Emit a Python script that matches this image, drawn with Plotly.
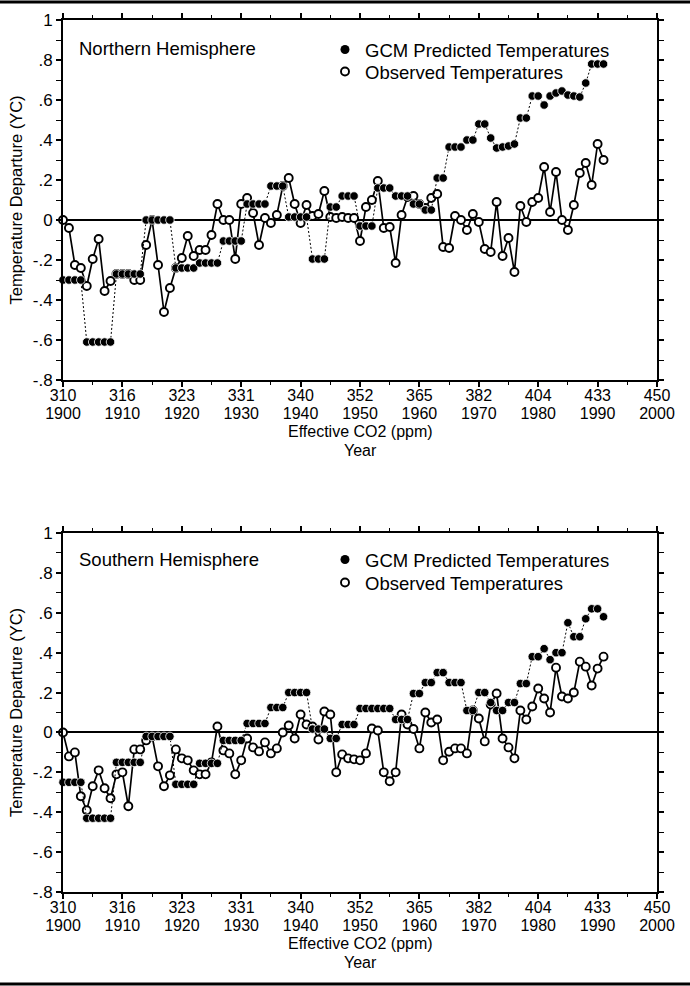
import plotly.graph_objects as go

years = list(range(1900, 1992))

nh_gcm = [-0.30]*4 + [-0.61]*5 + [-0.27]*5 + [0.0]*5 + [-0.24]*4 + [-0.215]*4 + [-0.105]*4 + \
         [0.08]*4 + [0.17]*3 + [0.015]*4 + [-0.195]*3 + [0.065]*2 + [0.12]*3 + [-0.03]*3 + \
         [0.16]*3 + [0.12]*3 + [0.08]*2 + [0.05]*2 + [0.21]*2 + [0.365]*3 + [0.40]*2 + [0.48]*2 + \
         [0.41] + [0.36, 0.365, 0.37, 0.38] + [0.51]*2 + [0.62]*2 + [0.575] + \
         [0.62, 0.635, 0.645, 0.625, 0.62, 0.615] + [0.685] + [0.78]*3

nh_obs = [0.0, -0.04, -0.225, -0.24, -0.33, -0.195, -0.095, -0.355, -0.305, -0.27,
          -0.27, -0.27, -0.30, -0.30, -0.125, 0.0, -0.225, -0.46, -0.34, -0.24,
          -0.19, -0.08, -0.18, -0.15, -0.15, -0.075, 0.08, 0.0, 0.0, -0.195,
          0.08, 0.11, 0.035, -0.125, 0.01, -0.015, 0.025, 0.17, 0.21, 0.08,
          -0.015, 0.075, 0.02, 0.03, 0.145, 0.015, 0.01, 0.015, 0.01, 0.01,
          -0.105, 0.065, 0.10, 0.195, -0.04, -0.035, -0.215, 0.025, 0.115, 0.12,
          0.08, 0.06, 0.11, 0.13, -0.135, -0.14, 0.02, 0.0, -0.05, 0.03,
          -0.01, -0.145, -0.16, 0.09, -0.18, -0.09, -0.26, 0.07, -0.01, 0.09,
          0.11, 0.265, 0.04, 0.24, 0.0, -0.05, 0.075, 0.235, 0.285, 0.175,
          0.38, 0.30]

sh_gcm = [-0.25]*4 + [-0.43]*5 + [-0.15]*5 + [-0.02]*5 + [-0.26]*4 + [-0.155]*4 + [-0.04]*4 + \
         [0.045]*4 + [0.125]*3 + [0.20]*4 + [0.017]*3 + [-0.03]*2 + [0.04]*3 + [0.12]*6 + \
         [0.065]*3 + [0.195]*2 + [0.25]*2 + [0.30]*2 + [0.25]*3 + [0.11]*2 + [0.20]*2 + [0.15] + \
         [0.11]*2 + [0.15]*2 + [0.245]*2 + [0.38]*2 + [0.42] + [0.365] + [0.40]*2 + [0.55] + \
         [0.48]*2 + [0.57] + [0.62]*2 + [0.58]

sh_obs = [0.0, -0.12, -0.10, -0.32, -0.39, -0.27, -0.19, -0.28, -0.33, -0.21,
          -0.20, -0.37, -0.085, -0.085, -0.04, -0.02, -0.17, -0.27, -0.215, -0.085,
          -0.13, -0.14, -0.19, -0.21, -0.21, -0.15, 0.03, -0.09, -0.105, -0.21,
          -0.14, -0.03, -0.075, -0.095, -0.05, -0.105, -0.08, 0.0, 0.035, -0.03,
          0.09, 0.04, 0.03, -0.035, 0.105, 0.09, -0.20, -0.11, -0.13, -0.135,
          -0.14, -0.105, 0.02, 0.01, -0.20, -0.245, -0.20, 0.09, 0.04, 0.017,
          -0.08, 0.10, 0.05, 0.065, -0.14, -0.097, -0.08, -0.08, -0.105, 0.11,
          0.07, -0.045, 0.14, 0.195, -0.03, -0.075, -0.13, 0.11, 0.065, 0.13,
          0.22, 0.17, 0.10, 0.325, 0.18, 0.17, 0.20, 0.355, 0.33, 0.235,
          0.32, 0.38]

tick_years = [1900, 1910, 1920, 1930, 1940, 1950, 1960, 1970, 1980, 1990, 2000]
co2_labels = ["310", "316", "323", "331", "340", "352", "365", "382", "404", "433", "450"]
y_tick_vals = [1, 0.8, 0.6, 0.4, 0.2, 0, -0.2, -0.4, -0.6, -0.8]
y_tick_text = ["1", ".8", ".6", ".4", ".2", "0", "-.2", "-.4", "-.6", "-.8"]

FONT = "Liberation Sans, Arial, Helvetica, sans-serif"
W, H = 690, 986
ML, MR, MT, MB = 63, 33, 20, 94


def pfy(py):
    return (H - MB - py) / (H - MT - MB)


def pfx(px):
    return (px - ML) / (W - ML - MR)


fig = go.Figure()

obs_style = dict(mode="lines+markers", cliponaxis=False, showlegend=False,
                 line=dict(color="black", width=1.7),
                 marker=dict(symbol="circle", size=8, color="white",
                             line=dict(color="black", width=1.9)))
gcm_style = dict(mode="lines+markers", cliponaxis=False, showlegend=False,
                 line=dict(color="black", width=1, dash="2px,2px"),
                 marker=dict(symbol="circle", size=8.5, color="black",
                             line=dict(color="white", width=0.8)))

panels = [("x", "y", ("x3", "x5"), nh_gcm, nh_obs, "legend", "legend2"),
          ("x2", "y2", ("x4", "x6"), sh_gcm, sh_obs, "legend3", "legend4")]
for xa, ya, label_axes, gcm, obs, lg1, lg2 in panels:
    fig.add_trace(go.Scatter(x=years, y=obs, xaxis=xa, yaxis=ya, **obs_style))
    fig.add_trace(go.Scatter(x=years, y=gcm, xaxis=xa, yaxis=ya, **gcm_style))
    # legend-only entries (markers only)
    fig.add_trace(go.Scatter(x=[None], y=[None], xaxis=xa, yaxis=ya, mode="markers",
                             name="GCM Predicted Temperatures", legend=lg1,
                             marker=dict(symbol="circle", size=9, color="black")))
    fig.add_trace(go.Scatter(x=[None], y=[None], xaxis=xa, yaxis=ya, mode="markers",
                             name="Observed Temperatures", legend=lg2,
                             marker=dict(symbol="circle", size=8, color="white",
                                         line=dict(color="black", width=1.9))))
    # empty traces so the overlay label axes (CO2 row, year row) are rendered
    for la in label_axes:
        fig.add_trace(go.Scatter(x=[None], y=[None], xaxis=la, yaxis=ya, mode="markers",
                                 showlegend=False, hoverinfo="skip"))

TICKFONT = dict(family=FONT, size=16, color="black")

xaxis_main = dict(range=[1900, 2000], tickvals=tick_years, showticklabels=False,
                  showline=True, linecolor="black", linewidth=2, mirror="allticks",
                  ticks="outside", ticklen=5, tickwidth=1.5, tickcolor="black",
                  minor=dict(dtick=5, ticks="outside", ticklen=3, tickcolor="black", tickwidth=1),
                  showgrid=False, zeroline=False)
xaxis_co2 = dict(range=[1900, 2000], tickvals=tick_years, ticktext=co2_labels,
                 showline=False, ticks="outside", ticklen=1, tickcolor="rgba(0,0,0,0)",
                 showgrid=False, zeroline=False, tickfont=TICKFONT)
xaxis_year = dict(range=[1900, 2000], tickvals=tick_years, ticktext=[str(y) for y in tick_years],
                  showline=False, ticks="outside", ticklen=19, tickcolor="rgba(0,0,0,0)",
                  showgrid=False, zeroline=False, tickfont=TICKFONT)
yaxis_common = dict(range=[-0.8, 1], tickvals=y_tick_vals, ticktext=y_tick_text,
                    showline=True, linecolor="black", linewidth=2, mirror="allticks",
                    ticks="outside", ticklen=5, tickwidth=1.5, tickcolor="black",
                    minor=dict(dtick=0.1, ticks="outside", ticklen=3, tickcolor="black", tickwidth=1),
                    showgrid=False, zeroline=True, zerolinecolor="black", zerolinewidth=1.5,
                    tickfont=dict(family=FONT, size=17, color="black"),
                    title=dict(text="Temperature Departure (YC)", standoff=6,
                               font=dict(family=FONT, size=16.5, color="black")))

legend_common = dict(bgcolor="rgba(0,0,0,0)", borderwidth=0, xanchor="left", yanchor="middle",
                     font=dict(family=FONT, size=18.5, color="black"), itemwidth=30)

LX = pfx(325)
label_font = dict(family=FONT, size=18.5, color="black")
title_font = dict(family=FONT, size=16, color="black")

annotations = [
    dict(text="Northern Hemisphere", x=pfx(77), y=pfy(48), xref="paper", yref="paper",
         xanchor="left", yanchor="middle", showarrow=False, font=label_font),
    dict(text="Southern Hemisphere", x=pfx(77), y=pfy(559), xref="paper", yref="paper",
         xanchor="left", yanchor="middle", showarrow=False, font=label_font),
]
for off in (0, 512):
    annotations.append(dict(text="Effective CO2 (ppm)", x=0.5, y=pfy(431 + off), xref="paper",
                            yref="paper", xanchor="center", yanchor="middle", showarrow=False,
                            font=title_font))
    annotations.append(dict(text="Year", x=0.5, y=pfy(450 + off), xref="paper",
                            yref="paper", xanchor="center", yanchor="middle", showarrow=False,
                            font=title_font))

fig.update_layout(
    width=W, height=H,
    margin=dict(l=ML, r=MR, t=MT, b=MB),
    paper_bgcolor="white", plot_bgcolor="white",
    font=dict(family=FONT, size=16, color="black"),
    xaxis=dict(domain=[0, 1], anchor="y", **xaxis_main),
    yaxis=dict(domain=[pfy(380), 1], anchor="x", **yaxis_common),
    xaxis2=dict(domain=[0, 1], anchor="y2", **xaxis_main),
    yaxis2=dict(domain=[0, pfy(533)], anchor="x2", **yaxis_common),
    xaxis3=dict(overlaying="x", anchor="y", side="bottom", **xaxis_co2),
    xaxis4=dict(overlaying="x2", anchor="y2", side="bottom", **xaxis_co2),
    xaxis5=dict(overlaying="x", anchor="y", side="bottom", **xaxis_year),
    xaxis6=dict(overlaying="x2", anchor="y2", side="bottom", **xaxis_year),
    legend=dict(x=LX, y=pfy(50), **legend_common),
    legend2=dict(x=LX, y=pfy(72), **legend_common),
    legend3=dict(x=LX, y=pfy(560), **legend_common),
    legend4=dict(x=LX, y=pfy(583), **legend_common),
    annotations=annotations,
    shapes=[
        dict(type="line", xref="paper", yref="paper", x0=pfx(0), x1=pfx(W), y0=pfy(2), y1=pfy(2),
             line=dict(color="black", width=3)),
        dict(type="line", xref="paper", yref="paper", x0=pfx(0), x1=pfx(W), y0=pfy(984), y1=pfy(984),
             line=dict(color="black", width=3)),
    ],
)

fig.write_html("out.html", config={"displayModeBar": False},
               post_script="document.body.style.margin='0';")
